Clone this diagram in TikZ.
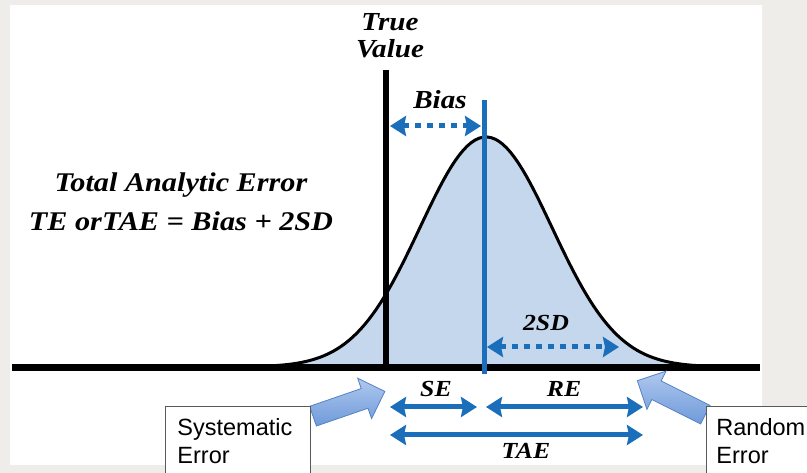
\documentclass[tikz,border=0pt]{standalone}
\usepackage{fontspec}
\setmainfont{Liberation Serif}
\newfontfamily\lblfont[FakeStretch=1.12]{Liberation Serif Bold Italic}
\newfontfamily\boxfont{Liberation Sans}
\usetikzlibrary{arrows.meta, positioning, calc, shapes.arrows}
\definecolor{meanblue}{RGB}{26,110,186}
\definecolor{bellfill}{RGB}{197,215,236}
\definecolor{bggray}{RGB}{238,237,234}
\definecolor{arrowlight}{RGB}{176,200,238}
\definecolor{arrowdark}{RGB}{110,154,218}
\definecolor{arrowedge}{RGB}{84,130,196}
\definecolor{boxedge}{RGB}{90,90,90}

\begin{document}
\begin{tikzpicture}[x=1pt, y=-1pt,
  biglbl/.style={inner sep=0pt, align=center, font=\lblfont\fontsize{27}{39}\selectfont},
  midlbl/.style={inner sep=0pt, align=center, font=\lblfont\fontsize{26}{27}\selectfont},
  smalllbl/.style={inner sep=0pt, font=\lblfont\fontsize{23}{26}\selectfont},
  textbox/.style={draw=boxedge, fill=white, line width=0.9pt, align=left, inner ysep=12.5pt,
    font=\boxfont\fontsize{23.5}{28}\selectfont},
  blockarrow/.style={single arrow, draw=arrowedge, line width=0.8pt, top color=arrowlight, bottom color=arrowdark,
    inner xsep=0pt, inner ysep=10pt, single arrow head extend=11pt, single arrow tip angle=90, minimum height=76pt},
  biarrow/.style={meanblue, line width=5pt, {Stealth[length=16pt,width=20pt,inset=2pt]}-{Stealth[length=16pt,width=20pt,inset=2pt]}},
  dotarrow/.style={biarrow, dash pattern=on 6pt off 6pt}]

  \clip (0,0) rectangle (807,473);
  \fill[bggray] (0,0) rectangle (807,473);
  \fill[white] (10,5) rectangle (762,465);

  % bell curve
  \fill[bellfill] plot[domain=250:720, samples=120] (\x, {367-230*exp(-0.5*((\x-486)/66)^2)}) -- cycle;
  \draw[line width=3pt] plot[domain=250:720, samples=120] (\x, {367-230*exp(-0.5*((\x-486)/66)^2)});
  \draw[line width=7pt] (12,368) -- (760,368);

  % true value and mean
  \coordinate (tvTop) at (386,70);
  \coordinate (tvBot) at (386,368);
  \coordinate (mTop) at (484,100);
  \coordinate (mBot) at (484,374);
  \draw[line width=6pt] (tvTop) -- (tvBot);
  \draw[meanblue, line width=5pt] (mTop) -- (mBot);

  \node[midlbl] (truelbl) at (390,35.5) {True\\Value};
  \node[midlbl, anchor=base] (biaslbl) at (440,108.6) {Bias};
  \node[biglbl] (titlelbl) at (181,202) {Total Analytic Error\\TE orTAE = Bias + 2SD};
  \node[smalllbl, anchor=base] (sdlbl) at (546,330.6) {2SD};
  \node[smalllbl, anchor=base] (selbl) at (436,396.6) {SE};
  \node[smalllbl, anchor=base] (relbl) at (564,396.6) {RE};
  \node[smalllbl, anchor=base] (taelbl) at (526,458.6) {TAE};

  % error spans
  \coordinate (biasL) at (390,126);
  \coordinate (biasR) at (481,126);
  \coordinate (sdL) at (487,347);
  \coordinate (sdR) at (619,347);
  \coordinate (seL) at (390,407);
  \coordinate (seR) at (477,407);
  \coordinate (reL) at (486,407);
  \coordinate (reR) at (643,407);
  \coordinate (taeL) at (390,435);
  \coordinate (taeR) at (643,435);
  \draw[dotarrow] (biasL) -- (biasR);
  \draw[dotarrow] (sdL) -- (sdR);
  \draw[biarrow] (seL) -- (seR);
  \draw[biarrow] (reL) -- (reR);
  \draw[biarrow] (taeL) -- (taeR);

  % callouts
  \coordinate (sysTip) at (380,393);
  \coordinate (sysTail) at (308,418);
  \coordinate (randTip) at (642,383);
  \coordinate (randTail) at (710,417);
  \node[blockarrow, rotate=19] (sysArrow) at ($(sysTail)!0.5!(sysTip)$) {};
  \node[blockarrow, rotate=153.4] (randArrow) at ($(randTail)!0.5!(randTip)$) {};

  \node[textbox, anchor=north west, inner xsep=12pt, text width=121pt] (sysbox) at (165,406) {Systematic\\Error};
  \node[textbox, anchor=north west, inner xsep=10pt, text width=100pt] (randbox) at (706,406) {Random\\Error};
\end{tikzpicture}
\end{document}
